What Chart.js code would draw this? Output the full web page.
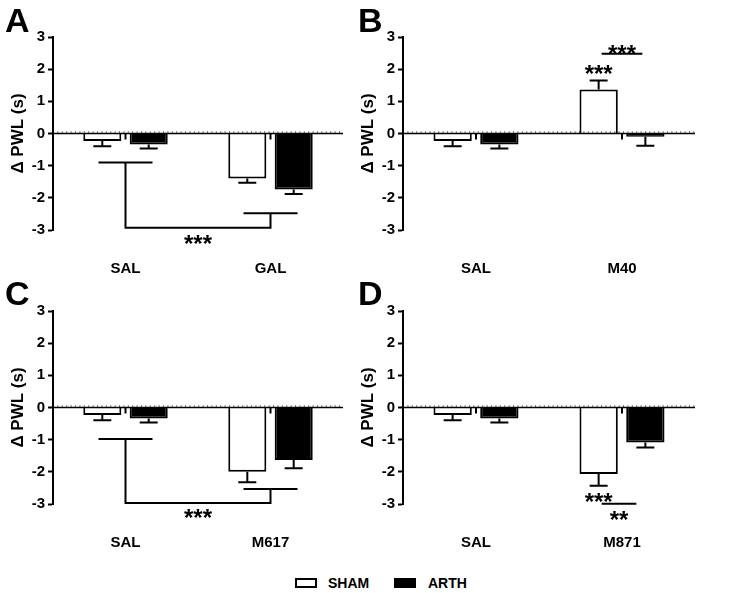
<!DOCTYPE html>
<html>
<head>
<meta charset="utf-8">
<script src="https://cdn.jsdelivr.net/npm/chart.js@4.4.0/dist/chart.umd.min.js"></script>
<style>
body { margin: 0; background: #fff; }
#wrap { position: relative; width: 743px; height: 593px; font-family: "Liberation Sans", Arial, sans-serif; color: #000; }
canvas { position: absolute; }
.letter { position: absolute; font-weight: bold; font-size: 34px; line-height: 1; }
.box { position: absolute; box-sizing: border-box; width: 22px; height: 10px; border: 2px solid #000; }
.ltxt { position: absolute; font-weight: bold; font-size: 14px; line-height: 14px; }
</style>
</head>
<body>
<div id="wrap">
  <canvas id="panelA" width="360" height="280" style="left:0px;top:0px"></canvas>
  <canvas id="panelB" width="360" height="280" style="left:350px;top:0px"></canvas>
  <canvas id="panelC" width="360" height="280" style="left:0px;top:274px"></canvas>
  <canvas id="panelD" width="360" height="280" style="left:350px;top:274px"></canvas>
  <div class="letter" style="left:5px;top:3px">A</div>
  <div class="letter" style="left:358px;top:3px">B</div>
  <div class="letter" style="left:5px;top:276px">C</div>
  <div class="letter" style="left:358px;top:276px">D</div>
  <div class="box" style="left:295px;top:578px;background:#fff"></div>
  <div class="ltxt" style="left:328px;top:576px">SHAM</div>
  <div class="box" style="left:394px;top:578px;background:#000"></div>
  <div class="ltxt" style="left:428px;top:576px">ARTH</div>
</div>
<script>
// données (Δ PWL en secondes, moyenne et SEM)
const catA = ['SAL', 'GAL'];
const shamA = [-0.23, -1.40];
const shamErrA = [0.17, 0.13];
const arthA = [-0.34, -1.74];
const arthErrA = [0.13, 0.14];

const catB = ['SAL', 'M40'];
const shamB = [-0.23, 1.37];
const shamErrB = [0.17, 0.28];
const arthB = [-0.34, -0.10];
const arthErrB = [0.13, 0.28];

const catC = ['SAL', 'M617'];
const shamC = [-0.23, -2.00];
const shamErrC = [0.17, 0.32];
const arthC = [-0.34, -1.63];
const arthErrC = [0.13, 0.26];

const catD = ['SAL', 'M871'];
const shamD = [-0.23, -2.07];
const shamErrD = [0.17, 0.36];
const arthD = [-0.34, -1.09];
const arthErrD = [0.13, 0.15];

const yTicks = [-3, -2, -1, 0, 1, 2, 3];

// significativité (valeurs en unités de l'axe y)
const bracketA = { leftY: -0.9, rightY: -2.48, lowY: -2.93, starY: -3.26, text: '***' };
const bracketC = { leftY: -0.98, rightY: -2.53, lowY: -2.97, starY: -3.26, text: '***' };
const starsB = [{ cat: 1, ds: 0, y: 2.02, text: '***' }];
const lineB = { cat: 1, y: 2.48, textY: 2.64, text: '***' };
const starsD = [{ cat: 1, ds: 0, y: -2.76, text: '***' }];
const lineD = { cat: 1, y: -2.99, textY: -3.33, text: '**' };

const police = '"Liberation Sans", Arial, sans-serif';

function ecrireEtoiles(ctx, txt, cx, cy) {
    const taille = 24;
    ctx.font = 'bold ' + taille + 'px ' + police;
    ctx.textAlign = 'center';
    ctx.textBaseline = 'alphabetic';
    ctx.fillStyle = '#000';
    ctx.fillText(txt, cx, cy + 0.57 * taille);
}

function dessinerCrochet(ctx, chart, b) {
    const x = chart.scales.x, y = chart.scales.y;
    const x0 = x.getPixelForValue(0), x1 = x.getPixelForValue(1);
    const demi = 27;
    ctx.beginPath();
    ctx.moveTo(x0 - demi, y.getPixelForValue(b.leftY));
    ctx.lineTo(x0 + demi, y.getPixelForValue(b.leftY));
    ctx.moveTo(x0, y.getPixelForValue(b.leftY));
    ctx.lineTo(x0, y.getPixelForValue(b.lowY));
    ctx.lineTo(x1, y.getPixelForValue(b.lowY));
    ctx.lineTo(x1, y.getPixelForValue(b.rightY));
    ctx.moveTo(x1 - demi, y.getPixelForValue(b.rightY));
    ctx.lineTo(x1 + demi, y.getPixelForValue(b.rightY));
    ctx.stroke();
    ecrireEtoiles(ctx, b.text, (x0 + x1) / 2, y.getPixelForValue(b.starY));
}

function dessinerLigne(ctx, chart, l, retraitG, retraitD) {
    const y = chart.scales.y;
    const b0 = chart.getDatasetMeta(0).data[l.cat];
    const b1 = chart.getDatasetMeta(1).data[l.cat];
    const ya = y.getPixelForValue(l.y);
    const xa = b0.x + retraitG, xb = b1.x - retraitD;
    ctx.beginPath();
    ctx.moveTo(xa, ya);
    ctx.lineTo(xb, ya);
    ctx.stroke();
    ecrireEtoiles(ctx, l.text, (xa + xb) / 2, y.getPixelForValue(l.textY));
}

function dessinerEtoiles(ctx, chart, liste) {
    liste.forEach(s => {
        const bar = chart.getDatasetMeta(s.ds).data[s.cat];
        ecrireEtoiles(ctx, s.text, bar.x, chart.scales.y.getPixelForValue(s.y));
    });
}

function creerPanel(id, cats, sham, shamErr, arth, arthErr, padDroite, extra) {
    const valeurs = [sham, arth];
    const erreurs = [shamErr, arthErr];
    const marques = {
        id: 'marques',
        afterDatasetsDraw(chart) {
            const ctx = chart.ctx;
            const area = chart.chartArea;
            const x = chart.scales.x, y = chart.scales.y;
            const y0 = y.getPixelForValue(0);
            ctx.save();
            ctx.strokeStyle = '#000';
            ctx.lineCap = 'butt';

            // barres d'erreur (côté opposé à zéro)
            ctx.lineWidth = 2;
            for (let d = 0; d < 2; d++) {
                const meta = chart.getDatasetMeta(d);
                meta.data.forEach((bar, j) => {
                    const v = valeurs[d][j];
                    const sens = v < 0 ? -1 : 1;
                    const ya = y.getPixelForValue(v);
                    const yb = y.getPixelForValue(v + sens * erreurs[d][j]);
                    ctx.beginPath();
                    ctx.moveTo(bar.x, ya);
                    ctx.lineTo(bar.x, yb);
                    ctx.moveTo(bar.x - 9, yb);
                    ctx.lineTo(bar.x + 9, yb);
                    ctx.stroke();
                });
            }

            // ligne du zéro avec petites graduations
            ctx.lineWidth = 1.5;
            ctx.beginPath();
            ctx.moveTo(area.left, y0);
            ctx.lineTo(area.right, y0);
            ctx.stroke();
            ctx.lineWidth = 1;
            ctx.setLineDash([1, 3.4]);
            ctx.beginPath();
            ctx.moveTo(area.left, y0 - 1.5);
            ctx.lineTo(area.right, y0 - 1.5);
            ctx.stroke();
            ctx.setLineDash([]);

            // graduations des catégories
            ctx.lineWidth = 2;
            cats.forEach((c, i) => {
                const xc = x.getPixelForValue(i);
                ctx.beginPath();
                ctx.moveTo(xc, y0);
                ctx.lineTo(xc, y0 + 6);
                ctx.stroke();
            });

            ctx.lineWidth = 2;
            extra(ctx, chart);
            ctx.restore();
        }
    };

    return new Chart(document.getElementById(id), {
        type: 'bar',
        data: {
            labels: cats,
            datasets: [{
                label: 'SHAM',
                data: sham,
                backgroundColor: '#fff',
                borderColor: '#000',
                borderWidth: 2,
                categoryPercentage: 0.64,
                barPercentage: 0.82
            }, {
                label: 'ARTH',
                data: arth,
                backgroundColor: '#000',
                borderColor: '#000',
                borderWidth: 2,
                categoryPercentage: 0.64,
                barPercentage: 0.82
            }]
        },
        options: {
            responsive: false,
            animation: false,
            layout: { padding: { top: 37, right: padDroite, left: 0, bottom: 0 } },
            plugins: { legend: { display: false }, tooltip: { enabled: false } },
            scales: {
                x: {
                    grid: { display: false },
                    border: { display: false },
                    ticks: { color: '#000', padding: 22, font: { family: police, size: 15, weight: 'bold' } },
                    afterFit(s) { s.height = 50; }
                },
                y: {
                    min: -3,
                    max: 3,
                    afterBuildTicks(s) { s.ticks = yTicks.map(v => ({ value: v })); },
                    ticks: { color: '#000', padding: 3, font: { family: police, size: 15, weight: 'bold' } },
                    grid: { drawOnChartArea: false, tickLength: 5, tickWidth: 2, tickColor: '#000' },
                    border: { color: '#000', width: 2 },
                    title: {
                        display: true,
                        text: 'Δ PWL (s)',
                        color: '#000',
                        padding: { top: 8, bottom: 0 },
                        font: { family: police, size: 17, weight: 'bold' }
                    },
                    afterFit(s) { s.width = 53; }
                }
            }
        },
        plugins: [marques]
    });
}

creerPanel('panelA', catA, shamA, shamErrA, arthA, arthErrA, 17, (ctx, chart) => dessinerCrochet(ctx, chart, bracketA));
creerPanel('panelB', catB, shamB, shamErrB, arthB, arthErrB, 15, (ctx, chart) => {
    dessinerEtoiles(ctx, chart, starsB);
    dessinerLigne(ctx, chart, lineB, 3, 3);
});
creerPanel('panelC', catC, shamC, shamErrC, arthC, arthErrC, 17, (ctx, chart) => dessinerCrochet(ctx, chart, bracketC));
creerPanel('panelD', catD, shamD, shamErrD, arthD, arthErrD, 15, (ctx, chart) => {
    dessinerEtoiles(ctx, chart, starsD);
    dessinerLigne(ctx, chart, lineD, 3, 9);
});
</script>
</body>
</html>
